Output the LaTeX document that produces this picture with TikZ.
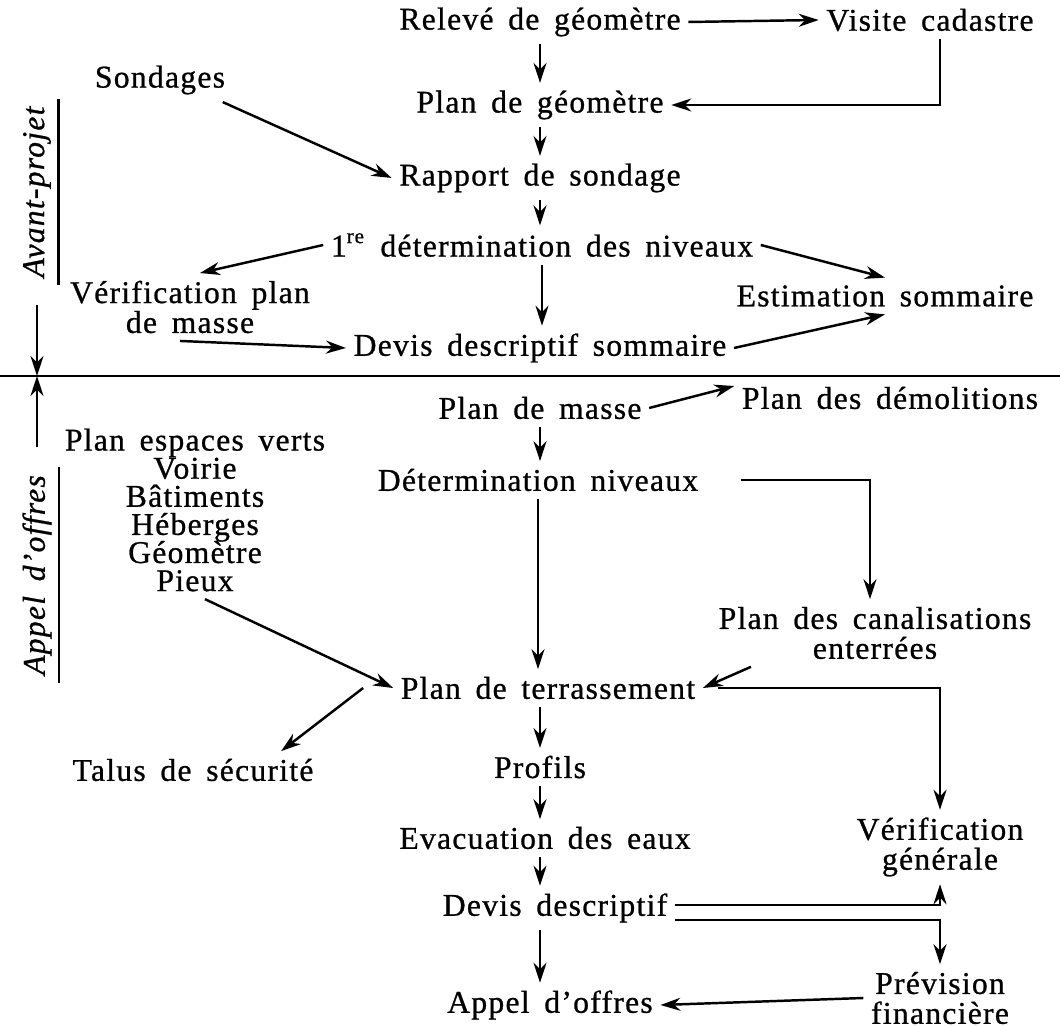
\documentclass[tikz,border=0pt]{standalone}
\usepackage{fontspec}
\setmainfont{Liberation Serif}[LetterSpace=4,WordSpace=1.6,FakeBold=0.8]
\usetikzlibrary{arrows.meta}

\begin{document}
\begin{tikzpicture}[
        every node/.style={font={\fontsize{9}{8.5}\selectfont\lineskiplimit=-5pt\relax}, inner sep=2pt, align=center},
        fl/.style={-{Stealth[length=2mm,width=1.3mm]}, line width=0.7pt},
        trait/.style={line width=0.7pt},
        cote/.style={font={\fontsize{9}{9}\selectfont\itshape}, rotate=90, inner sep=2pt}
    ]
        \useasboundingbox (0,0) rectangle (10.6,-10.26);

        % Avant-projet
        \node (releve) at (5.40,-0.22) {Relevé de géomètre};
        \node (visite) at (9.30,-0.20) {Visite cadastre};
        \node (plangeo) at (5.40,-1.05) {Plan de géomètre};
        \node (sondages) at (1.60,-0.80) {Sondages};
        \node (rapport) at (5.40,-1.78) {Rapport de sondage};
        \node (premdet) at (5.42,-2.45) {1\textsuperscript{re} détermination des niveaux};
        \node (verifpm) at (1.90,-3.07) {Vérification plan\\de masse};
        \node (estim) at (8.85,-2.96) {Estimation sommaire};
        \node (devsom) at (5.40,-3.48) {Devis descriptif sommaire};

        \draw[fl] (releve.east) -- (visite.west);
        \draw[fl] (releve.south) -- (plangeo.north);
        \draw[fl] ([xshift=0.1cm]visite.south) |- (plangeo.east);
        \draw[fl] ([xshift=-0.1cm]sondages.south east) -- (rapport.west);
        \draw[fl] (plangeo.south) -- (rapport.north);
        \draw[fl] (rapport.south) -- (rapport.south |- premdet.north);
        \draw[fl] (premdet.west) -- ([xshift=0.1cm]verifpm.north);
        \draw[fl] (premdet.east) -- (estim.north);
        \draw[fl] (premdet.south) -- (premdet.south |- devsom.north);
        \draw[fl] ([xshift=-0.1cm]verifpm.south) -- (devsom.west);
        \draw[fl] (devsom.east) -- (estim.south);

        % Separation
        \coordinate (sepW) at (0,-3.76);
        \coordinate (sepE) at (10.6,-3.76);
        \coordinate (sepL) at (0.37,-3.76);
        \draw[trait] (sepW) -- (sepE);

        % Cotes
        \node[cote] (avant) at (0.37,-1.92) {Avant-projet};
        \node[cote] (appeloff) at (0.37,-5.75) {Appel d'offres};
        \draw[trait] (avant.south west) -- (avant.south east);
        \draw[trait] (appeloff.south west) -- (appeloff.south east);
        \draw[fl] ([yshift=-0.2cm]avant.west) -- (sepL);
        \draw[fl] ([yshift=0.2cm]appeloff.east) -- (sepL);

        % Appel d'offres
        \node (demol) at (8.90,-3.98) {Plan des démolitions};
        \node (masse) at (5.40,-4.08) {Plan de masse};
        \node[font={\fontsize{9}{8}\selectfont\lineskiplimit=-5pt\relax}] (liste) at (1.95,-5.10)
            {Plan espaces verts\\Voirie\\Bâtiments\\Héberges\\Géomètre\\Pieux};
        \node (detniv) at (5.38,-4.80) {Détermination niveaux};
        \node (canal) at (8.75,-6.33) {Plan des canalisations\\enterrées};
        \node (terr) at (5.48,-6.88) {Plan de terrassement};
        \node (talus) at (1.93,-7.70) {Talus de sécurité};
        \node (profils) at (5.40,-7.67) {Profils};
        \node (evac) at (5.45,-8.38) {Evacuation des eaux};
        \node (verif) at (9.40,-8.47) {Vérification\\générale};
        \node (devis) at (5.55,-9.08) {Devis descriptif};
        \node (prev) at (9.40,-9.98) {Prévision\\financière};
        \node (appel) at (5.50,-10.05) {Appel d'offres};

        \draw[fl] (masse.east) -- ([yshift=0.12cm]demol.west);
        \draw[fl] (masse.south) -- (masse.south |- detniv.north);
        \draw[fl] ([xshift=0.35cm]detniv.east) -| ([xshift=-0.05cm]canal.north);
        \draw[fl] (detniv.south) -- (detniv.south |- terr.north);
        \draw[fl] ([xshift=0.1cm]liste.south) -- (terr.west);
        \draw[fl] ([xshift=0.4cm]canal.south west) -- (terr.east);
        \draw[fl] ([xshift=-0.3cm]terr.west) -- ([xshift=-0.4cm]talus.north east);
        \draw[fl] ([xshift=0.15cm]terr.east) -| (verif.north);
        \draw[fl] (terr.south -| profils) -- (profils.north);
        \draw[fl] (profils.south) -- (profils.south |- evac.north);
        \draw[fl] (evac.south -| profils) -- (profils |- devis.north);
        \draw[fl] ([yshift=0.03cm]devis.east) -| (verif.south);
        \draw[fl] ([yshift=-0.12cm]devis.east) -| (prev.north);
        \draw[fl] (devis.south -| profils) -- (profils |- appel.north);
        \draw[fl] (prev.west) -- (appel.east);
\end{tikzpicture}
\end{document}
